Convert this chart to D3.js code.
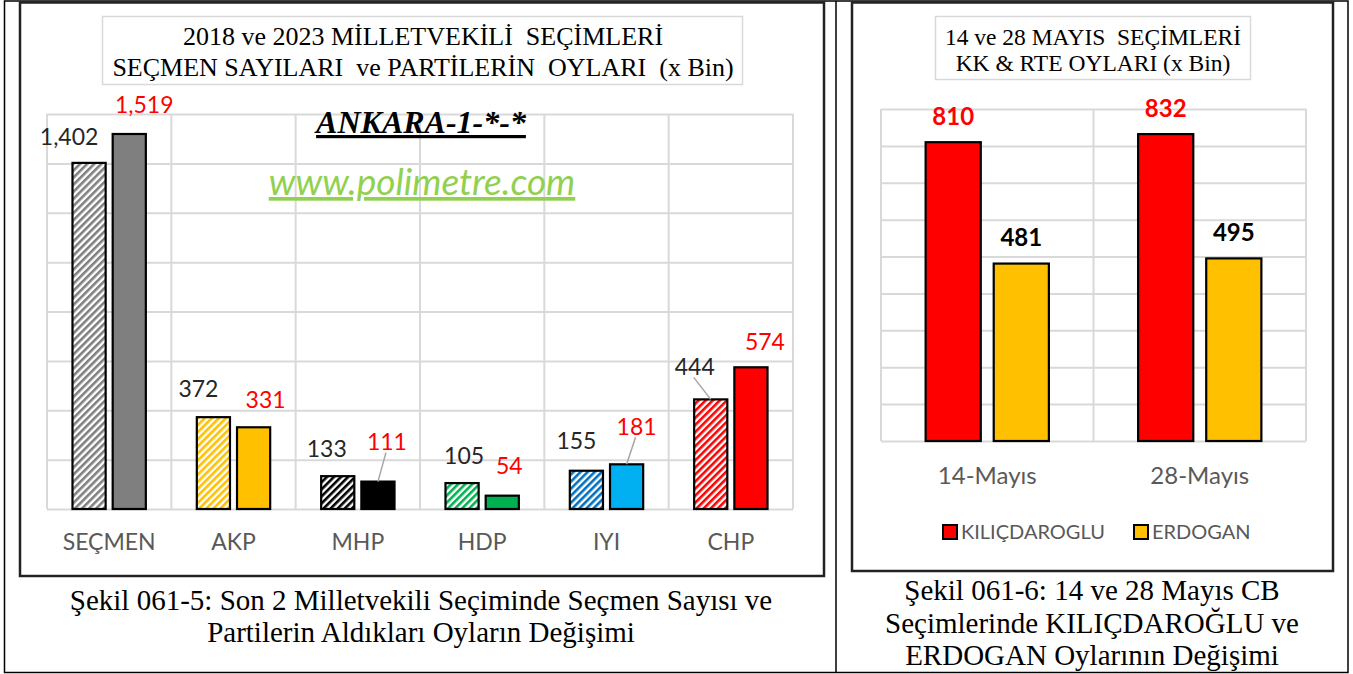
<!DOCTYPE html>
<html>
<head>
<meta charset="utf-8">
<script src="https://cdn.jsdelivr.net/npm/d3@7"></script>
<style>
  body { margin: 0; background: #fff; }
  svg text { white-space: pre; }
  .serif { font-family: "Liberation Serif", "DejaVu Serif", serif; }
  .sans { font-family: Lato, "Open Sans", sans-serif; }
</style>
</head>
<body>
<svg id="chart" width="1353" height="674"></svg>
<script>
// --- data: left chart (x Bin) ---
const categories = ["SEÇMEN", "AKP", "MHP", "HDP", "IYI", "CHP"];
const years = ["2018", "2023"];
const votes2018 = [1402, 372, 133, 105, 155, 444];
const votes2023 = [1519, 331, 111, 54, 181, 574];
const leftTicks = [0, 200, 400, 600, 800, 1000, 1200, 1400, 1600];

// --- data: right chart (x Bin) ---
const rounds = ["14-Mayıs", "28-Mayıs"];
const candidates = ["KILIÇDAROGLU", "ERDOGAN"];
const kkVotes = [810, 832];
const rteVotes = [481, 495];
const rightTicks = [0, 100, 200, 300, 400, 500, 600, 700, 800, 900];

// styles
const partyColors = ["#7f7f7f", "#ffc000", "#000000", "#00b050", "#0070c0", "#ff0000"];
const party2023Colors = ["#7f7f7f", "#ffc000", "#000000", "#00b050", "#00b0f0", "#ff0000"];
const candColors = ["#ff0000", "#ffc000"];
// label nudges (dx from bar centre, dy from bar top), as placed in the original
const lab2018 = [[-20, -26], [-15, -28], [-11, -27], [2, -27], [-10, -30], [-16, -33]];
const lab2023 = [[15, -29], [12, -28], [9, -40], [7, -30], [10, -38], [14, -26]];
const leader2018 = [false, false, false, false, false, true];
const leader2023 = [false, false, true, false, true, false];

const svg = d3.select("#chart");

// table frame
svg.append("rect").attr("x", 4.5).attr("y", 1).attr("width", 1343.5).attr("height", 671.5)
    .attr("fill", "none").attr("stroke", "#000").attr("stroke-width", 1.5);
svg.append("line").attr("x1", 836).attr("x2", 836).attr("y1", 1).attr("y2", 673)
    .attr("stroke", "#000").attr("stroke-width", 1.5);

// chart boxes
svg.append("rect").attr("x", 20).attr("y", 2.5).attr("width", 804).attr("height", 573.5)
    .attr("fill", "#fff").attr("stroke", "#222").attr("stroke-width", 2.5);
svg.append("rect").attr("x", 852).attr("y", 2.5).attr("width", 481).attr("height", 568.5)
    .attr("fill", "#fff").attr("stroke", "#222").attr("stroke-width", 2.5);

// hatch patterns
const defs = svg.append("defs");
partyColors.forEach(function (c, i) {
    const p = defs.append("pattern").attr("id", "hatch" + i)
        .attr("patternUnits", "userSpaceOnUse").attr("width", 5).attr("height", 5)
        .attr("patternTransform", "rotate(45)");
    p.append("rect").attr("width", 5).attr("height", 5).attr("fill", "#fff");
    p.append("rect").attr("width", 2.6).attr("height", 5).attr("fill", c);
});

// ================= LEFT CHART =================
const L = { left: 47, right: 793, top: 114, bottom: 509 };

const x0 = d3.scaleBand().domain(categories).range([L.left, L.right])
    .paddingInner(0.41).paddingOuter(0.205);
const x1 = d3.scaleBand().domain(years).range([0, x0.bandwidth()]).paddingInner(0.175);
const y = d3.scaleLinear().domain([0, 1600]).range([L.bottom, L.top]);

const gl = svg.append("g");

// horizontal grid
gl.append("g").attr("transform", "translate(" + L.left + ",0)")
    .call(d3.axisLeft(y).tickValues(leftTicks).tickSize(-(L.right - L.left)).tickFormat(""))
    .call(function (g) {
        g.select(".domain").remove();
        g.selectAll(".tick line").attr("stroke", "#d9d9d9").attr("stroke-width", 2);
    });
// vertical grid at category borders
gl.selectAll(".vgrid").data(d3.range(categories.length + 1)).enter().append("line")
    .attr("x1", function (i) { return L.left + i * x0.step(); })
    .attr("x2", function (i) { return L.left + i * x0.step(); })
    .attr("y1", L.top).attr("y2", L.bottom)
    .attr("stroke", "#d9d9d9").attr("stroke-width", 2);

// x axis labels
gl.append("g").attr("transform", "translate(0," + L.bottom + ")")
    .call(d3.axisBottom(x0).tickSize(0).tickPadding(25))
    .call(function (g) {
        g.select(".domain").remove();
        g.selectAll("text").attr("fill", "#595959").attr("font-size", 23)
            .attr("font-family", null).attr("class", "sans");
    });

const rows = categories.map(function (c, i) {
    return { cat: c, i: i, v18: votes2018[i], v23: votes2023[i] };
});

const grp = gl.selectAll(".grp").data(rows).enter().append("g")
    .attr("transform", function (d) { return "translate(" + x0(d.cat) + ",0)"; });

grp.append("rect")
    .attr("x", x1("2018")).attr("width", x1.bandwidth())
    .attr("y", function (d) { return y(d.v18); })
    .attr("height", function (d) { return y(0) - y(d.v18); })
    .attr("fill", function (d) { return "url(#hatch" + d.i + ")"; })
    .attr("stroke", "#000").attr("stroke-width", 2.2);

grp.append("rect")
    .attr("x", x1("2023")).attr("width", x1.bandwidth())
    .attr("y", function (d) { return y(d.v23); })
    .attr("height", function (d) { return y(0) - y(d.v23); })
    .attr("fill", function (d) { return party2023Colors[d.i]; })
    .attr("stroke", "#000").attr("stroke-width", 2.2);

// value labels + leader lines
function addLabels(key, yr, offs, leaders, color) {
    grp.each(function (d) {
        const g = d3.select(this);
        const cx = x1(yr) + x1.bandwidth() / 2;
        const top = y(d[key]);
        const lx = cx + offs[d.i][0], ly = top + offs[d.i][1];
        if (leaders[d.i]) {
            g.append("line")
                .attr("x1", lx - 1).attr("y1", ly + 11)
                .attr("x2", cx).attr("y2", top)
                .attr("stroke", "#a6a6a6").attr("stroke-width", 1.5);
        }
        g.append("text").attr("class", "sans").attr("x", lx).attr("y", ly).attr("dy", "0.36em")
            .attr("text-anchor", "middle").attr("font-size", 23)
            .attr("fill", color).text(d3.format(",")(d[key]));
    });
}
addLabels("v18", "2018", lab2018, leader2018, "#262626");
addLabels("v23", "2023", lab2023, leader2023, "#ff0000");

// title box
svg.append("rect").attr("x", 102.5).attr("y", 16.5).attr("width", 640).attr("height", 68)
    .attr("fill", "#fff").attr("stroke", "#d9d9d9").attr("stroke-width", 1.5);
svg.append("text").attr("class", "serif").attr("x", 423).attr("y", 45).attr("text-anchor", "middle")
    .attr("font-size", 26).attr("fill", "#000")
    .text("2018 ve 2023 MİLLETVEKİLİ  SEÇİMLERİ");
svg.append("text").attr("class", "serif").attr("x", 423).attr("y", 76).attr("text-anchor", "middle")
    .attr("font-size", 26).attr("fill", "#000")
    .text("SEÇMEN SAYILARI  ve PARTİLERİN  OYLARI  (x Bin)");

svg.append("text").attr("class", "serif").attr("x", 421).attr("y", 133).attr("text-anchor", "middle")
    .attr("font-size", 32).attr("font-weight", "bold")
    .attr("font-style", "italic").attr("text-decoration", "underline").attr("fill", "#000")
    .text("ANKARA-1-*-*");

svg.append("text").attr("class", "sans").attr("x", 422).attr("y", 195).attr("text-anchor", "middle")
    .attr("font-size", 37).attr("font-style", "italic")
    .attr("text-decoration", "underline").attr("fill", "#92d050")
    .text("www.polimetre.com");

// ================= RIGHT CHART =================
const R = { left: 881, right: 1306, top: 109, bottom: 441 };
const rx0 = d3.scaleBand().domain(rounds).range([R.left, R.right])
    .paddingInner(0.42).paddingOuter(0.21);
const rx1 = d3.scaleBand().domain(candidates).range([0, rx0.bandwidth()]).paddingInner(0.19);
const ry = d3.scaleLinear().domain([0, 900]).range([R.bottom, R.top]);

const gr = svg.append("g");
gr.append("g").attr("transform", "translate(" + R.left + ",0)")
    .call(d3.axisLeft(ry).tickValues(rightTicks).tickSize(-(R.right - R.left)).tickFormat(""))
    .call(function (g) {
        g.select(".domain").remove();
        g.selectAll(".tick line").attr("stroke", "#d9d9d9").attr("stroke-width", 2);
    });
gr.selectAll(".vgrid").data(d3.range(rounds.length + 1)).enter().append("line")
    .attr("x1", function (i) { return R.left + i * rx0.step(); })
    .attr("x2", function (i) { return R.left + i * rx0.step(); })
    .attr("y1", R.top).attr("y2", R.bottom)
    .attr("stroke", "#d9d9d9").attr("stroke-width", 2);

gr.append("g").attr("transform", "translate(0," + R.bottom + ")")
    .call(d3.axisBottom(rx0).tickSize(0).tickPadding(26))
    .call(function (g) {
        g.select(".domain").remove();
        g.selectAll("text").attr("fill", "#595959").attr("font-size", 24)
            .attr("font-family", null).attr("class", "sans");
    });

const rrows = [];
rounds.forEach(function (r, i) {
    rrows.push({ round: r, cand: candidates[0], v: kkVotes[i], c: 0 });
    rrows.push({ round: r, cand: candidates[1], v: rteVotes[i], c: 1 });
});

gr.selectAll(".rbar").data(rrows).enter().append("rect")
    .attr("x", function (d) { return rx0(d.round) + rx1(d.cand); })
    .attr("width", rx1.bandwidth())
    .attr("y", function (d) { return ry(d.v); })
    .attr("height", function (d) { return ry(0) - ry(d.v); })
    .attr("fill", function (d) { return candColors[d.c]; })
    .attr("stroke", "#000").attr("stroke-width", 2.2);

gr.selectAll(".rlab").data(rrows).enter().append("text").attr("class", "sans")
    .attr("x", function (d) { return rx0(d.round) + rx1(d.cand) + rx1.bandwidth() / 2; })
    .attr("y", function (d) { return ry(d.v) - 26; })
    .attr("dy", "0.36em").attr("text-anchor", "middle")
    .attr("font-size", 24).attr("font-weight", "bold")
    .attr("fill", function (d) { return d.c === 0 ? "#ff0000" : "#000"; })
    .text(function (d) { return d.v; });

// legend
const legX = [943, 1134];
const leg = gr.selectAll(".leg").data(candidates).enter().append("g")
    .attr("transform", function (d, i) { return "translate(" + legX[i] + ",525)"; });
leg.append("rect").attr("width", 14).attr("height", 14)
    .attr("fill", function (d, i) { return candColors[i]; })
    .attr("stroke", "#000").attr("stroke-width", 2);
leg.append("text").attr("class", "sans").attr("x", 18).attr("y", 7).attr("dy", "0.36em")
    .attr("font-size", 20).attr("fill", "#595959")
    .text(function (d) { return d; });

// title box
svg.append("rect").attr("x", 935.5).attr("y", 16.5).attr("width", 315).attr("height", 63)
    .attr("fill", "#fff").attr("stroke", "#d9d9d9").attr("stroke-width", 1.5);
svg.append("text").attr("class", "serif").attr("x", 1093).attr("y", 45).attr("text-anchor", "middle")
    .attr("font-size", 23.5).attr("fill", "#000")
    .text("14 ve 28 MAYIS  SEÇİMLERİ");
svg.append("text").attr("class", "serif").attr("x", 1093).attr("y", 71).attr("text-anchor", "middle")
    .attr("font-size", 23.5).attr("fill", "#000")
    .text("KK & RTE OYLARI (x Bin)");

// ================= CAPTIONS =================
const capLeft = ["Şekil 061-5: Son 2 Milletvekili Seçiminde Seçmen Sayısı ve",
    "Partilerin Aldıkları Oyların Değişimi"];
const capRight = ["Şekil 061-6: 14 ve 28 Mayıs CB",
    "Seçimlerinde KILIÇDAROĞLU ve", "ERDOGAN Oylarının Değişimi"];

svg.selectAll(".capL").data(capLeft).enter().append("text").attr("class", "serif")
    .attr("x", 421).attr("y", function (d, i) { return 609.5 + i * 32; })
    .attr("text-anchor", "middle").attr("font-size", 29)
    .attr("fill", "#000").text(function (d) { return d; });
svg.selectAll(".capR").data(capRight).enter().append("text").attr("class", "serif")
    .attr("x", 1092).attr("y", function (d, i) { return 600 + i * 32.5; })
    .attr("text-anchor", "middle").attr("font-size", 29)
    .attr("fill", "#000").text(function (d) { return d; });
</script>
</body>
</html>
